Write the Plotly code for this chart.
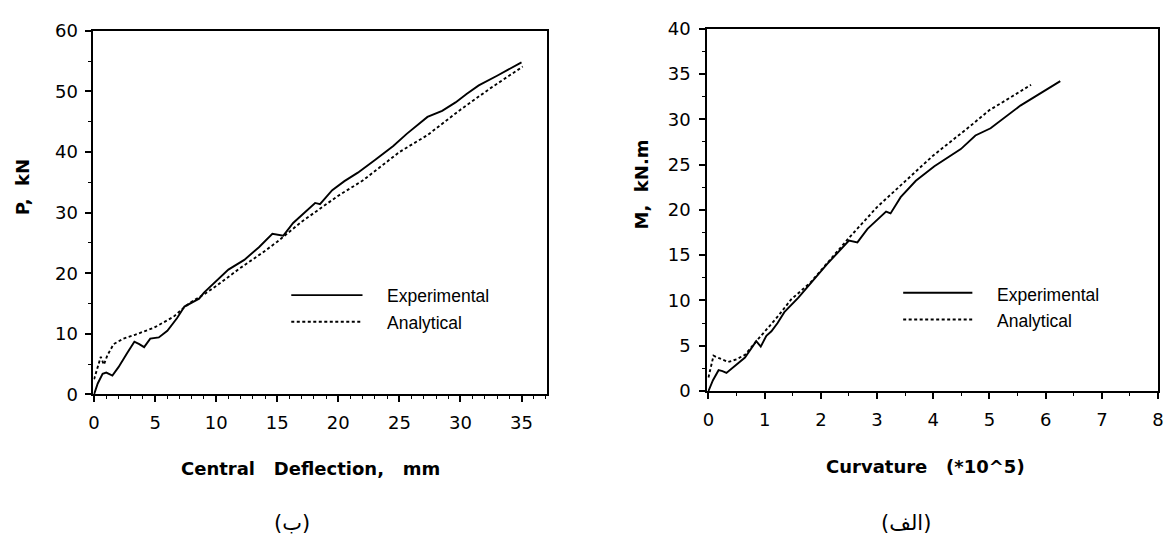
import plotly.graph_objects as go

# ---------------- data ----------------
# Left chart (ب): load P (kN) vs central deflection (mm)
defl_exp = [0, 0.3, 0.7, 1.0, 1.5, 2.0, 2.7, 3.3, 3.7, 4.1, 4.6, 5.3, 6.0, 6.8, 7.4, 8.0, 8.6, 9.0,
            10.0, 11.0, 12.3, 13.5, 14.6, 15.5, 16.3, 17.5, 18.1, 18.5, 19.5, 20.5, 21.6, 23.0,
            24.5, 25.6, 27.3, 28.5, 29.6, 30.5, 31.5, 33.0, 35.0]
load_exp = [0, 1.8, 3.4, 3.6, 3.1, 4.5, 6.8, 8.7, 8.3, 7.8, 9.2, 9.4, 10.5, 12.6, 14.5, 15.2, 15.8, 16.8,
            18.7, 20.6, 22.2, 24.3, 26.5, 26.2, 28.3, 30.4, 31.6, 31.4, 33.7, 35.2, 36.6, 38.7,
            41.0, 43.0, 45.8, 46.8, 48.2, 49.6, 51.0, 52.6, 54.8]
defl_ana = [0, 0.3, 0.55, 0.8, 1.1, 1.6, 2.4, 3.3, 4.9, 6.5, 7.4, 8.0, 9.0, 10.0, 12.0, 13.8, 15.0,
            17.0, 20.0, 22.0, 25.0, 27.3, 30.0, 32.5, 35.1]
load_ana = [2.5, 4.5, 6.2, 4.9, 6.5, 8.3, 9.2, 9.8, 11.0, 12.8, 14.4, 15.3, 16.5, 17.9, 20.9, 23.4, 25.2,
            28.5, 32.8, 35.3, 40.0, 42.8, 47.0, 50.6, 54.1]

# Right chart (الف): moment M (kN.m) vs curvature (*10^5)
curv_exp = [0, 0.08, 0.18, 0.25, 0.32, 0.5, 0.65, 0.85, 0.93, 1.03, 1.12, 1.23, 1.35, 1.6, 1.82, 2.11,
            2.5, 2.65, 2.83, 3.0, 3.16, 3.24, 3.42, 3.69, 4.02, 4.49, 4.75, 5.02, 5.55, 6.26]
mom_exp = [0, 1.2, 2.3, 2.2, 2.0, 2.9, 3.7, 5.5, 4.9, 6.1, 6.6, 7.5, 8.7, 10.3, 11.9, 14.0,
           16.6, 16.4, 17.9, 18.9, 19.8, 19.6, 21.4, 23.2, 24.8, 26.7, 28.2, 29.0, 31.5, 34.2]
curv_ana = [0, 0.05, 0.09, 0.2, 0.35, 0.5, 0.65, 0.88, 1.23, 1.47, 1.82, 2.11, 2.5, 3.0, 3.5, 4.0,
            4.65, 5.0, 5.4, 5.74]
mom_ana = [1.5, 3.0, 3.9, 3.6, 3.2, 3.5, 4.0, 5.7, 8.2, 10.1, 12.0, 14.1, 16.9, 20.3, 23.2, 26.0,
           29.2, 31.0, 32.5, 33.8]

series_names = ["Experimental", "Analytical"]
left_xticks = [0, 5, 10, 15, 20, 25, 30, 35]
left_yticks = [0, 10, 20, 30, 40, 50, 60]
right_xticks = [0, 1, 2, 3, 4, 5, 6, 7, 8]
right_yticks = [0, 5, 10, 15, 20, 25, 30, 35, 40]
left_xtitle = "Central\u00a0\u00a0 Deflection,\u00a0\u00a0 mm"
left_ytitle = "P,\u00a0 kN"
right_xtitle = "Curvature\u00a0\u00a0 (*10^5)"
right_ytitle = "M,\u00a0 kN.m"
captions = ["(ب)", "(الف)"]

# ---------------- layout ----------------
W, H = 1171, 537
INK = "#000000"
TICK_FONT = dict(family="DejaVu Sans, sans-serif", size=18, color=INK)
TITLE_FONT = dict(family="DejaVu Sans, sans-serif", size=18, color=INK, weight="bold")
LEG_FONT = dict(family="Liberation Sans, Arial, sans-serif", size=17.5, color=INK)
CAP_FONT = dict(family="DejaVu Sans, sans-serif", size=21, color=INK)


def px_x(p):
    return p / W


def px_y(p):
    return 1 - p / H


L_dom_x = [px_x(89.3), px_x(547.3)]
L_dom_y = [px_y(399), px_y(20.7)]
R_dom_x = [px_x(709), px_x(1164)]
R_dom_y = [px_y(395.5), px_y(18.3)]


def axis(domain, rng, ticks, minor_dt, anchor, standoff):
    return dict(
        domain=domain, range=rng, anchor=anchor,
        tickvals=ticks, ticktext=[str(t) for t in ticks],
        showgrid=False, zeroline=False,
        showline=True, linecolor=INK, linewidth=2, mirror=True,
        ticks="outside", ticklen=6, tickwidth=1.5, tickcolor=INK,
        ticklabelstandoff=standoff,
        minor=dict(dtick=minor_dt, ticks="outside", ticklen=3, tickwidth=1.2, tickcolor=INK, showgrid=False),
        tickfont=TICK_FONT,
    )


fig = go.Figure()
solid = dict(color=INK, width=1.9)
dashed = dict(color=INK, width=1.9, dash="3px,2.5px")

fig.add_trace(go.Scatter(x=defl_exp, y=load_exp, mode="lines", line=solid, name=series_names[0],
                         xaxis="x", yaxis="y", showlegend=False))
fig.add_trace(go.Scatter(x=defl_ana, y=load_ana, mode="lines", line=dashed, name=series_names[1],
                         xaxis="x", yaxis="y", showlegend=False))
fig.add_trace(go.Scatter(x=curv_exp, y=mom_exp, mode="lines", line=solid, name=series_names[0],
                         xaxis="x2", yaxis="y2", showlegend=False))
fig.add_trace(go.Scatter(x=curv_ana, y=mom_ana, mode="lines", line=dashed, name=series_names[1],
                         xaxis="x2", yaxis="y2", showlegend=False))

shapes = []
annotations = []

# legend keys (drawn inside each plot area, in axis-domain coordinates)
for xr, yr, lx0, lx1, tx, ys, yt in [
    ("x domain", "y domain", 0.436, 0.593, 0.6435, [0.273, 0.200], [0.270, 0.196]),
    ("x2 domain", "y2 domain", 0.4345, 0.588, 0.638, [0.271, 0.1975], [0.266, 0.193]),
]:
    for i, name in enumerate(series_names):
        shapes.append(dict(type="line", xref=xr, yref=yr, x0=lx0, x1=lx1, y0=ys[i], y1=ys[i],
                           line=solid if i == 0 else dashed))
        annotations.append(dict(xref=xr, yref=yr, x=tx, y=yt[i], text=name, showarrow=False,
                                xanchor="left", yanchor="middle", font=LEG_FONT))

# axis titles and captions
annotations += [
    dict(xref="paper", yref="paper", x=px_x(18.5), y=px_y(183), text=left_ytitle, textangle=-90,
         showarrow=False, font=TITLE_FONT, xanchor="center", yanchor="middle"),
    dict(xref="paper", yref="paper", x=px_x(643.5), y=px_y(180), text=right_ytitle, textangle=-90,
         showarrow=False, font=TITLE_FONT, xanchor="center", yanchor="middle"),
    dict(xref="paper", yref="paper", x=px_x(308), y=px_y(476), text=left_xtitle,
         showarrow=False, font=TITLE_FONT, xanchor="center", yanchor="middle"),
    dict(xref="paper", yref="paper", x=px_x(929.5), y=px_y(474), text=right_xtitle,
         showarrow=False, font=TITLE_FONT, xanchor="center", yanchor="middle"),
    dict(xref="paper", yref="paper", x=px_x(290), y=px_y(533), text=captions[0],
         showarrow=False, font=CAP_FONT, xanchor="center", yanchor="middle"),
    dict(xref="paper", yref="paper", x=px_x(910), y=px_y(533), text=captions[1],
         showarrow=False, font=CAP_FONT, xanchor="center", yanchor="middle"),
]

fig.update_layout(
    width=W, height=H,
    margin=dict(l=0, r=0, t=0, b=0),
    paper_bgcolor="white", plot_bgcolor="white",
    showlegend=False,
    xaxis=axis(L_dom_x, [-0.05, 37.1], left_xticks, 1, "y", 5),
    yaxis=axis(L_dom_y, [0, 60], left_yticks, 5, "x", 4),
    xaxis2=axis(R_dom_x, [-0.02, 8], right_xticks, 0.5, "y2", 5),
    yaxis2=axis(R_dom_y, [0, 40], right_yticks, 2.5, "x2", 5),
    shapes=shapes,
    annotations=annotations,
)

fig.write_html("out.html", config={"displayModeBar": False},
               post_script="document.body.style.margin='0';")
